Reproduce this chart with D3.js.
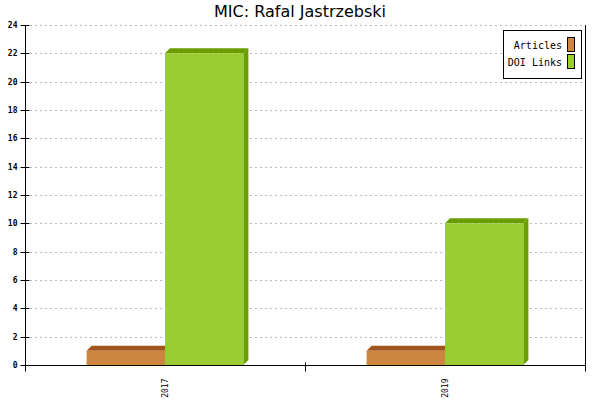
<!DOCTYPE html>
<html>
<head>
<meta charset="utf-8">
<script src="https://cdn.jsdelivr.net/npm/d3@7"></script>
<style>
  body { margin: 0; background: #fff; }
  text { fill: #000; }
</style>
</head>
<body>
<div id="chart"></div>
<script>
// chart data
var years = ['2017', '2019'];
var seriesNames = ['Articles', 'DOI Links'];
var articles = [1, 1];
var doiLinks = [22, 10];
var yTicks = [0, 2, 4, 6, 8, 10, 12, 14, 16, 18, 20, 22, 24];

(function() {
  var w = 600, h = 400;
  var pLeft = 25, pRight = 585, pTop = 25, pBottom = 365;
  var depth = 5;
  var fronts = ['#cd853f', '#9acd32'];
  var tops = ['#a0541a', '#6a9e00'];

  var svg = d3.select('#chart').append('svg')
    .attr('width', w)
    .attr('height', h);

  var x = d3.scaleBand().domain(years).range([pLeft, pRight]);
  var y = d3.scaleLinear().domain([0, 24]).range([pBottom, pTop]);
  var barW = x.bandwidth() * 0.28;

  // title
  svg.append('text')
    .attr('x', 300).attr('y', 17)
    .attr('text-anchor', 'middle')
    .style('font-family', 'DejaVu Sans')
    .style('font-size', '16px')
    .text('MIC: Rafal Jastrzebski');

  // grid
  svg.append('g').selectAll('line')
    .data(yTicks.filter(d => d > 0))
    .enter().append('line')
    .attr('x1', pLeft + 5).attr('x2', pRight)
    .attr('y1', d => Math.round(y(d)) + 0.5).attr('y2', d => Math.round(y(d)) + 0.5)
    .attr('stroke', '#bbb')
    .attr('stroke-dasharray', '2,3');

  // bars
  var data = [articles, doiLinks];
  years.forEach(function(yr, i) {
    var cx = x(yr) + x.bandwidth() / 2;
    data.forEach(function(vals, s) {
      var x0 = s === 0 ? cx - barW : cx;
      var x1 = x0 + barW;
      var yt = y(vals[i]), y0 = y(0);
      var g = svg.append('g');
      g.append('polygon')
        .attr('points', [[x1, yt], [x1 + depth, yt - depth], [x1 + depth, y0 - depth], [x1, y0]].join(' '))
        .attr('fill', tops[s]);
      g.append('polygon')
        .attr('points', [[x0, yt], [x0 + depth, yt - depth], [x1 + depth, yt - depth], [x1, yt]].join(' '))
        .attr('fill', tops[s]);
      g.append('rect')
        .attr('x', x0).attr('y', yt)
        .attr('width', barW).attr('height', y0 - yt)
        .attr('fill', fronts[s]);
    });
  });

  // y axis
  var yAxis = svg.append('g')
    .attr('transform', 'translate(' + (pLeft + 0.5) + ',0)')
    .call(d3.axisLeft(y).tickValues(yTicks).tickSize(5).tickSizeOuter(0));
  yAxis.selectAll('.tick').attr('transform', d => 'translate(0,' + (Math.round(y(d)) + 0.5) + ')');
  yAxis.selectAll('.tick line').attr('x2', 4).attr('x1', -5).attr('stroke', '#000');
  yAxis.select('.domain').attr('d', 'M0,' + pTop + 'V' + (pBottom + 6)).attr('stroke', '#000');
  yAxis.selectAll('text')
    .attr('x', -8)
    .style('font-family', 'DejaVu Sans Mono')
    .style('font-size', '8px')
    .style('font-weight', 'bold');

  // x axis
  var xAxis = svg.append('g')
    .attr('transform', 'translate(0,' + (pBottom + 0.5) + ')');
  xAxis.append('line')
    .attr('x1', pLeft).attr('x2', pRight)
    .attr('stroke', '#000');
  var edges = [pLeft, x(years[1]), pRight];
  xAxis.selectAll('.edge').data(edges).enter().append('line')
    .attr('x1', d => Math.round(d) + 0.5).attr('x2', d => Math.round(d) + 0.5)
    .attr('y1', -3).attr('y2', 6)
    .attr('stroke', '#000');
  xAxis.selectAll('.lbl').data(years).enter().append('text')
    .attr('transform', d => 'translate(' + (x(d) + x.bandwidth() / 2 + 3) + ',13) rotate(-90)')
    .attr('text-anchor', 'end')
    .style('font-family', 'DejaVu Sans Mono')
    .style('font-size', '8px')
    .text(d => d);

  // right border
  svg.append('line')
    .attr('x1', pRight + 0.5).attr('x2', pRight + 0.5)
    .attr('y1', pTop).attr('y2', pBottom + 6)
    .attr('stroke', '#000');

  // legend
  var lg = svg.append('g');
  lg.append('rect')
    .attr('x', 503.5).attr('y', 30.5)
    .attr('width', 78).attr('height', 48)
    .attr('fill', '#fff').attr('stroke', '#000');
  seriesNames.forEach(function(name, i) {
    lg.append('rect')
      .attr('x', 567.5).attr('y', 37.5 + i * 17)
      .attr('width', 7).attr('height', 14)
      .attr('fill', fronts[i]).attr('stroke', '#000');
    lg.append('text')
      .attr('x', 562).attr('y', 49 + i * 17)
      .attr('text-anchor', 'end')
      .style('font-family', 'DejaVu Sans Mono')
      .style('font-size', '10px')
      .text(name);
  });
})();
</script>
</body>
</html>
